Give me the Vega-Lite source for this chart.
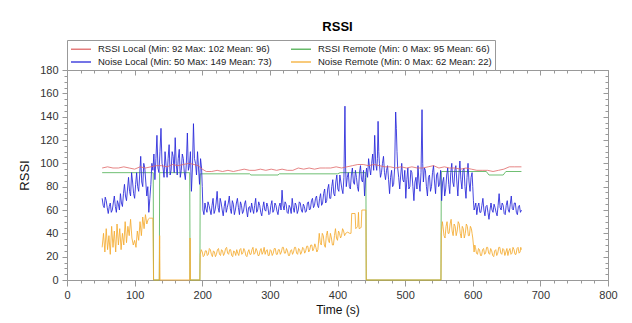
{
  "$schema": "https://vega.github.io/schema/vega-lite/v6.json",
  "width": 541,
  "height": 210,
  "autosize": {"type": "none"},
  "padding": {"left": 67, "top": 70, "right": 24, "bottom": 43},
  "background": "white",
  "title": {"text": "RSSI", "fontSize": 13, "fontWeight": "bold", "font": "Liberation Sans", "color": "#000", "anchor": "middle", "offset": 6},
  "datasets": {
    "rl": [{"t":52,"v":96},{"t":60,"v":97},{"t":68,"v":96},{"t":76,"v":96},{"t":84,"v":97},{"t":92,"v":96},{"t":100,"v":95},{"t":108,"v":97},{"t":116,"v":96},{"t":124,"v":97},{"t":132,"v":98},{"t":140,"v":98},{"t":148,"v":97},{"t":156,"v":99},{"t":164,"v":98},{"t":172,"v":99},{"t":180,"v":100},{"t":188,"v":99},{"t":194,"v":98},{"t":200,"v":95},{"t":206,"v":93},{"t":214,"v":93},{"t":222,"v":94},{"t":230,"v":93},{"t":238,"v":94},{"t":246,"v":93},{"t":254,"v":94},{"t":262,"v":95},{"t":270,"v":94},{"t":278,"v":94},{"t":286,"v":95},{"t":294,"v":94},{"t":302,"v":95},{"t":310,"v":94},{"t":318,"v":95},{"t":326,"v":94},{"t":334,"v":94},{"t":342,"v":96},{"t":350,"v":95},{"t":358,"v":96},{"t":366,"v":95},{"t":374,"v":96},{"t":382,"v":96},{"t":390,"v":96},{"t":398,"v":97},{"t":406,"v":96},{"t":414,"v":97},{"t":422,"v":98},{"t":430,"v":99},{"t":438,"v":99},{"t":446,"v":98},{"t":454,"v":99},{"t":462,"v":98},{"t":470,"v":97},{"t":478,"v":97},{"t":486,"v":96},{"t":494,"v":97},{"t":502,"v":96},{"t":510,"v":97},{"t":518,"v":96},{"t":526,"v":96},{"t":534,"v":97},{"t":542,"v":98},{"t":550,"v":96},{"t":558,"v":97},{"t":566,"v":96},{"t":574,"v":96},{"t":582,"v":95},{"t":590,"v":96},{"t":598,"v":95},{"t":606,"v":94},{"t":614,"v":94},{"t":622,"v":94},{"t":630,"v":93},{"t":638,"v":94},{"t":646,"v":95},{"t":654,"v":97},{"t":662,"v":97},{"t":672,"v":97}],
    "rr": [{"t":52,"v":92},{"t":127.5,"v":92},{"t":128,"v":0},{"t":136.5,"v":0},{"t":137,"v":92},{"t":181.5,"v":92},{"t":182,"v":0},{"t":196.5,"v":0},{"t":197,"v":91},{"t":270,"v":91},{"t":272,"v":90},{"t":312,"v":90},{"t":314,"v":91},{"t":400,"v":91},{"t":404,"v":92},{"t":442,"v":92},{"t":442.5,"v":0},{"t":553,"v":0},{"t":553.5,"v":93},{"t":620,"v":93},{"t":624,"v":90},{"t":645,"v":90},{"t":649,"v":93},{"t":672,"v":93}],
    "nl": [{"t":52,"v":70},{"t":53.5,"v":64},{"t":55,"v":62},{"t":56.5,"v":71},{"t":58,"v":68},{"t":59.5,"v":62},{"t":61,"v":57},{"t":62.5,"v":63},{"t":64,"v":66},{"t":65.5,"v":58},{"t":67,"v":60},{"t":68.5,"v":66},{"t":70,"v":72},{"t":71.5,"v":63},{"t":73,"v":58},{"t":74.5,"v":68},{"t":76,"v":65},{"t":77.5,"v":60},{"t":79,"v":74},{"t":80.5,"v":66},{"t":82,"v":63},{"t":83.5,"v":74},{"t":85,"v":82},{"t":86.5,"v":72},{"t":88,"v":68},{"t":89.5,"v":78},{"t":91,"v":88},{"t":92.5,"v":76},{"t":94,"v":72},{"t":95.5,"v":92},{"t":97,"v":84},{"t":98.5,"v":74},{"t":100,"v":70},{"t":101.5,"v":82},{"t":103,"v":92},{"t":104.5,"v":80},{"t":106,"v":76},{"t":107.5,"v":90},{"t":109,"v":106},{"t":110.5,"v":84},{"t":112,"v":80},{"t":113.5,"v":100},{"t":115,"v":96},{"t":116.5,"v":84},{"t":118,"v":72},{"t":119.5,"v":80},{"t":121,"v":58},{"t":122.5,"v":70},{"t":124,"v":82},{"t":125.5,"v":100},{"t":127,"v":94},{"t":128.5,"v":108},{"t":130,"v":86},{"t":131.5,"v":104},{"t":133,"v":124},{"t":134.5,"v":96},{"t":136,"v":92},{"t":137.5,"v":110},{"t":139,"v":130},{"t":140.5,"v":100},{"t":142,"v":96},{"t":143.5,"v":88},{"t":145,"v":110},{"t":146.5,"v":98},{"t":148,"v":88},{"t":149.5,"v":104},{"t":151,"v":116},{"t":152.5,"v":90},{"t":154,"v":94},{"t":155.5,"v":110},{"t":157,"v":106},{"t":158.5,"v":92},{"t":160,"v":122},{"t":161.5,"v":100},{"t":163,"v":90},{"t":164.5,"v":104},{"t":166,"v":112},{"t":167.5,"v":88},{"t":169,"v":94},{"t":170.5,"v":108},{"t":172,"v":104},{"t":173.5,"v":92},{"t":175,"v":86},{"t":176.5,"v":100},{"t":178,"v":126},{"t":179.5,"v":94},{"t":181,"v":98},{"t":182.5,"v":110},{"t":184,"v":76},{"t":185.5,"v":96},{"t":187,"v":134},{"t":188.5,"v":104},{"t":190,"v":100},{"t":191.5,"v":90},{"t":193,"v":110},{"t":194.5,"v":96},{"t":196,"v":82},{"t":197.5,"v":104},{"t":199,"v":96},{"t":200,"v":80},{"t":201,"v":60},{"t":202.5,"v":56},{"t":204,"v":66},{"t":205.5,"v":61},{"t":207,"v":58},{"t":208.5,"v":67},{"t":210,"v":64},{"t":211.5,"v":60},{"t":213,"v":56},{"t":214.5,"v":64},{"t":216,"v":70},{"t":217.5,"v":57},{"t":219,"v":60},{"t":220.5,"v":66},{"t":222,"v":76},{"t":223.5,"v":62},{"t":225,"v":58},{"t":226.5,"v":70},{"t":228,"v":66},{"t":229.5,"v":60},{"t":231,"v":55},{"t":232.5,"v":63},{"t":234,"v":68},{"t":235.5,"v":58},{"t":237,"v":62},{"t":238.5,"v":66},{"t":240,"v":72},{"t":241.5,"v":61},{"t":243,"v":57},{"t":244.5,"v":68},{"t":246,"v":65},{"t":247.5,"v":56},{"t":249,"v":60},{"t":250.5,"v":66},{"t":252,"v":70},{"t":253.5,"v":62},{"t":255,"v":56},{"t":256.5,"v":67},{"t":258,"v":64},{"t":259.5,"v":57},{"t":261,"v":59},{"t":262.5,"v":65},{"t":264,"v":68},{"t":265.5,"v":60},{"t":267,"v":54},{"t":268.5,"v":62},{"t":270,"v":63},{"t":271.5,"v":58},{"t":273,"v":66},{"t":274.5,"v":61},{"t":276,"v":57},{"t":277.5,"v":64},{"t":279,"v":70},{"t":280.5,"v":58},{"t":282,"v":60},{"t":283.5,"v":67},{"t":285,"v":64},{"t":286.5,"v":58},{"t":288,"v":55},{"t":289.5,"v":62},{"t":291,"v":67},{"t":292.5,"v":60},{"t":294,"v":59},{"t":295.5,"v":66},{"t":297,"v":63},{"t":298.5,"v":56},{"t":300,"v":57},{"t":301.5,"v":64},{"t":303,"v":68},{"t":304.5,"v":58},{"t":306,"v":60},{"t":307.5,"v":66},{"t":309,"v":64},{"t":310.5,"v":59},{"t":312,"v":56},{"t":313.5,"v":63},{"t":315,"v":66},{"t":316.5,"v":60},{"t":318,"v":77},{"t":319.5,"v":64},{"t":321,"v":60},{"t":322.5,"v":67},{"t":324,"v":65},{"t":325.5,"v":58},{"t":327,"v":57},{"t":328.5,"v":64},{"t":330,"v":62},{"t":331.5,"v":57},{"t":333,"v":70},{"t":334.5,"v":62},{"t":336,"v":58},{"t":337.5,"v":66},{"t":339,"v":64},{"t":340.5,"v":57},{"t":342,"v":60},{"t":343.5,"v":67},{"t":345,"v":66},{"t":346.5,"v":60},{"t":348,"v":58},{"t":349.5,"v":65},{"t":351,"v":63},{"t":352.5,"v":58},{"t":354,"v":59},{"t":355.5,"v":66},{"t":357,"v":67},{"t":358.5,"v":60},{"t":360,"v":61},{"t":361.5,"v":68},{"t":363,"v":70},{"t":364.5,"v":62},{"t":366,"v":64},{"t":367.5,"v":70},{"t":369,"v":72},{"t":370.5,"v":64},{"t":372,"v":62},{"t":373.5,"v":70},{"t":375,"v":74},{"t":376.5,"v":64},{"t":378,"v":66},{"t":379.5,"v":74},{"t":381,"v":78},{"t":382.5,"v":66},{"t":384,"v":68},{"t":385.5,"v":78},{"t":387,"v":82},{"t":388.5,"v":70},{"t":390,"v":70},{"t":391.5,"v":80},{"t":393,"v":86},{"t":394.5,"v":74},{"t":396,"v":72},{"t":397.5,"v":84},{"t":399,"v":90},{"t":400.5,"v":78},{"t":402,"v":76},{"t":403.5,"v":90},{"t":405,"v":84},{"t":406.5,"v":78},{"t":408,"v":74},{"t":409.5,"v":88},{"t":411,"v":149},{"t":412,"v":96},{"t":413,"v":80},{"t":414.5,"v":88},{"t":416,"v":92},{"t":417.5,"v":80},{"t":419,"v":78},{"t":420.5,"v":90},{"t":422,"v":96},{"t":423.5,"v":84},{"t":425,"v":82},{"t":426.5,"v":94},{"t":428,"v":88},{"t":429.5,"v":80},{"t":431,"v":76},{"t":432.5,"v":92},{"t":434,"v":98},{"t":435.5,"v":86},{"t":437,"v":84},{"t":438.5,"v":94},{"t":440,"v":72},{"t":441.5,"v":88},{"t":443,"v":96},{"t":444.5,"v":88},{"t":446,"v":104},{"t":447.5,"v":96},{"t":449,"v":90},{"t":450.5,"v":100},{"t":452,"v":108},{"t":453.5,"v":94},{"t":455,"v":124},{"t":456.5,"v":100},{"t":458,"v":94},{"t":459,"v":104},{"t":460,"v":136},{"t":461,"v":110},{"t":462,"v":100},{"t":463.5,"v":88},{"t":465,"v":92},{"t":466.5,"v":100},{"t":468,"v":106},{"t":469.5,"v":92},{"t":471,"v":86},{"t":472.5,"v":94},{"t":474,"v":98},{"t":475.5,"v":86},{"t":477,"v":74},{"t":478.5,"v":88},{"t":480,"v":94},{"t":481.5,"v":80},{"t":483,"v":82},{"t":484.5,"v":96},{"t":486,"v":144},{"t":487,"v":130},{"t":488,"v":110},{"t":489,"v":96},{"t":490.5,"v":88},{"t":492,"v":78},{"t":493.5,"v":90},{"t":495,"v":100},{"t":496.5,"v":86},{"t":498,"v":84},{"t":499.5,"v":94},{"t":501,"v":70},{"t":502.5,"v":86},{"t":504,"v":96},{"t":505.5,"v":78},{"t":507,"v":80},{"t":508.5,"v":94},{"t":510,"v":92},{"t":511.5,"v":80},{"t":513,"v":68},{"t":514.5,"v":84},{"t":516,"v":88},{"t":517.5,"v":78},{"t":519,"v":98},{"t":520.5,"v":84},{"t":522,"v":76},{"t":523.5,"v":92},{"t":525,"v":146},{"t":526,"v":100},{"t":527,"v":84},{"t":528.5,"v":96},{"t":530,"v":94},{"t":531.5,"v":80},{"t":533,"v":72},{"t":534.5,"v":88},{"t":536,"v":90},{"t":537.5,"v":76},{"t":539,"v":80},{"t":540.5,"v":92},{"t":542,"v":98},{"t":543.5,"v":84},{"t":545,"v":74},{"t":546.5,"v":90},{"t":548,"v":92},{"t":549.5,"v":80},{"t":551,"v":82},{"t":552.5,"v":94},{"t":554,"v":68},{"t":555.5,"v":84},{"t":557,"v":88},{"t":558.5,"v":72},{"t":560,"v":78},{"t":561.5,"v":90},{"t":563,"v":96},{"t":564.5,"v":82},{"t":566,"v":74},{"t":567.5,"v":92},{"t":569,"v":100},{"t":570.5,"v":84},{"t":572,"v":80},{"t":573.5,"v":94},{"t":575,"v":98},{"t":576.5,"v":84},{"t":578,"v":72},{"t":579.5,"v":90},{"t":581,"v":102},{"t":582.5,"v":86},{"t":584,"v":78},{"t":585.5,"v":94},{"t":587,"v":96},{"t":588.5,"v":80},{"t":590,"v":70},{"t":591.5,"v":88},{"t":593,"v":100},{"t":594.5,"v":84},{"t":596,"v":76},{"t":597.5,"v":88},{"t":599,"v":92},{"t":600,"v":80},{"t":601,"v":68},{"t":602,"v":60},{"t":603,"v":62},{"t":604.5,"v":66},{"t":606,"v":56},{"t":607.5,"v":63},{"t":609,"v":66},{"t":610.5,"v":58},{"t":612,"v":58},{"t":613.5,"v":64},{"t":615,"v":70},{"t":616.5,"v":60},{"t":618,"v":55},{"t":619.5,"v":63},{"t":621,"v":64},{"t":622.5,"v":58},{"t":624,"v":52},{"t":625.5,"v":60},{"t":627,"v":66},{"t":628.5,"v":60},{"t":630,"v":58},{"t":631.5,"v":65},{"t":633,"v":62},{"t":634.5,"v":58},{"t":636,"v":55},{"t":637.5,"v":64},{"t":639,"v":74},{"t":640.5,"v":62},{"t":642,"v":60},{"t":643.5,"v":66},{"t":645,"v":64},{"t":646.5,"v":57},{"t":648,"v":56},{"t":649.5,"v":64},{"t":651,"v":68},{"t":652.5,"v":60},{"t":654,"v":58},{"t":655.5,"v":65},{"t":657,"v":72},{"t":658.5,"v":61},{"t":660,"v":60},{"t":661.5,"v":66},{"t":663,"v":66},{"t":664.5,"v":58},{"t":666,"v":56},{"t":667.5,"v":63},{"t":669,"v":64},{"t":670.5,"v":58},{"t":672,"v":60}],
    "nr": [{"t":52,"v":28},{"t":54,"v":40},{"t":56,"v":24},{"t":58,"v":44},{"t":60,"v":26},{"t":62,"v":38},{"t":64,"v":22},{"t":66,"v":46},{"t":68,"v":28},{"t":70,"v":42},{"t":72,"v":24},{"t":74,"v":48},{"t":76,"v":30},{"t":78,"v":44},{"t":80,"v":26},{"t":82,"v":40},{"t":84,"v":30},{"t":86,"v":50},{"t":88,"v":32},{"t":90,"v":46},{"t":92,"v":38},{"t":94,"v":52},{"t":96,"v":36},{"t":98,"v":30},{"t":100,"v":34},{"t":102,"v":28},{"t":104,"v":42},{"t":106,"v":34},{"t":108,"v":50},{"t":110,"v":38},{"t":112,"v":54},{"t":114,"v":44},{"t":116,"v":56},{"t":118,"v":48},{"t":120,"v":52},{"t":122,"v":53},{"t":127,"v":53},{"t":128,"v":0},{"t":136.5,"v":0},{"t":137,"v":38},{"t":137.5,"v":0},{"t":181.5,"v":0},{"t":182,"v":36},{"t":182.5,"v":0},{"t":196.5,"v":0},{"t":197,"v":22},{"t":198.5,"v":26},{"t":200,"v":24},{"t":201.5,"v":20},{"t":203,"v":21},{"t":204.5,"v":25},{"t":206,"v":25},{"t":207.5,"v":21},{"t":209,"v":22},{"t":210.5,"v":27},{"t":212,"v":26},{"t":213.5,"v":22},{"t":215,"v":20},{"t":216.5,"v":25},{"t":218,"v":24},{"t":219.5,"v":20},{"t":221,"v":22},{"t":222.5,"v":26},{"t":224,"v":27},{"t":225.5,"v":22},{"t":227,"v":21},{"t":228.5,"v":26},{"t":230,"v":25},{"t":231.5,"v":21},{"t":233,"v":23},{"t":234.5,"v":27},{"t":236,"v":28},{"t":237.5,"v":23},{"t":239,"v":22},{"t":240.5,"v":26},{"t":242,"v":26},{"t":243.5,"v":21},{"t":245,"v":20},{"t":246.5,"v":25},{"t":248,"v":24},{"t":249.5,"v":21},{"t":251,"v":26},{"t":252.5,"v":23},{"t":254,"v":21},{"t":255.5,"v":26},{"t":257,"v":27},{"t":258.5,"v":22},{"t":260,"v":23},{"t":261.5,"v":27},{"t":263,"v":25},{"t":264.5,"v":21},{"t":266,"v":20},{"t":267.5,"v":24},{"t":269,"v":26},{"t":270.5,"v":22},{"t":272,"v":22},{"t":273.5,"v":26},{"t":275,"v":28},{"t":276.5,"v":22},{"t":278,"v":23},{"t":279.5,"v":27},{"t":281,"v":25},{"t":282.5,"v":21},{"t":284,"v":21},{"t":285.5,"v":25},{"t":287,"v":27},{"t":288.5,"v":22},{"t":290,"v":24},{"t":291.5,"v":28},{"t":293,"v":22},{"t":294.5,"v":25},{"t":296,"v":26},{"t":297.5,"v":21},{"t":299,"v":21},{"t":300.5,"v":26},{"t":302,"v":25},{"t":303.5,"v":21},{"t":305,"v":23},{"t":306.5,"v":27},{"t":308,"v":27},{"t":309.5,"v":22},{"t":311,"v":22},{"t":312.5,"v":26},{"t":314,"v":26},{"t":315.5,"v":22},{"t":317,"v":24},{"t":318.5,"v":28},{"t":320,"v":28},{"t":321.5,"v":23},{"t":323,"v":23},{"t":324.5,"v":27},{"t":326,"v":25},{"t":327.5,"v":21},{"t":329,"v":21},{"t":330.5,"v":25},{"t":332,"v":26},{"t":333.5,"v":22},{"t":335,"v":24},{"t":336.5,"v":28},{"t":338,"v":28},{"t":339.5,"v":23},{"t":341,"v":22},{"t":342.5,"v":27},{"t":344,"v":26},{"t":345.5,"v":22},{"t":347,"v":24},{"t":348.5,"v":28},{"t":350,"v":27},{"t":351.5,"v":23},{"t":353,"v":25},{"t":354.5,"v":29},{"t":356,"v":29},{"t":357.5,"v":24},{"t":359,"v":26},{"t":360.5,"v":30},{"t":362,"v":30},{"t":363.5,"v":25},{"t":365,"v":27},{"t":366.5,"v":31},{"t":368,"v":28},{"t":369.5,"v":24},{"t":371,"v":26},{"t":373,"v":40},{"t":374.5,"v":32},{"t":376,"v":30},{"t":377.5,"v":40},{"t":379,"v":38},{"t":380.5,"v":30},{"t":382,"v":28},{"t":383.5,"v":38},{"t":385,"v":42},{"t":386.5,"v":34},{"t":388,"v":32},{"t":389.5,"v":40},{"t":391,"v":36},{"t":392.5,"v":30},{"t":394,"v":30},{"t":395.5,"v":38},{"t":397,"v":44},{"t":398.5,"v":36},{"t":400,"v":34},{"t":401.5,"v":42},{"t":403,"v":40},{"t":404.5,"v":36},{"t":406,"v":38},{"t":407.5,"v":44},{"t":409,"v":42},{"t":410.5,"v":38},{"t":412,"v":40},{"t":415,"v":41},{"t":418,"v":40},{"t":420,"v":40},{"t":421,"v":57},{"t":426,"v":57},{"t":427,"v":44},{"t":430,"v":46},{"t":431,"v":58},{"t":432,"v":44},{"t":435,"v":45},{"t":436,"v":60},{"t":442,"v":60},{"t":442.5,"v":0},{"t":553,"v":0},{"t":553.5,"v":40},{"t":555,"v":50},{"t":556,"v":46},{"t":557.5,"v":38},{"t":559,"v":36},{"t":560.5,"v":46},{"t":562,"v":50},{"t":563.5,"v":40},{"t":565,"v":40},{"t":566.5,"v":48},{"t":568,"v":52},{"t":569.5,"v":42},{"t":571,"v":38},{"t":572.5,"v":48},{"t":574,"v":46},{"t":575.5,"v":38},{"t":577,"v":42},{"t":578.5,"v":50},{"t":580,"v":48},{"t":581.5,"v":40},{"t":583,"v":36},{"t":584.5,"v":46},{"t":586,"v":44},{"t":587.5,"v":36},{"t":589,"v":40},{"t":590.5,"v":48},{"t":592,"v":46},{"t":593.5,"v":38},{"t":595,"v":38},{"t":596.5,"v":46},{"t":598,"v":44},{"t":599,"v":40},{"t":600,"v":36},{"t":601,"v":30},{"t":602,"v":24},{"t":603,"v":30},{"t":604,"v":28},{"t":605.5,"v":23},{"t":607,"v":22},{"t":608.5,"v":27},{"t":610,"v":26},{"t":611.5,"v":21},{"t":613,"v":21},{"t":614.5,"v":26},{"t":616,"v":27},{"t":617.5,"v":22},{"t":619,"v":23},{"t":620.5,"v":28},{"t":622,"v":28},{"t":623.5,"v":23},{"t":625,"v":22},{"t":626.5,"v":27},{"t":628,"v":25},{"t":629.5,"v":21},{"t":631,"v":20},{"t":632.5,"v":25},{"t":634,"v":26},{"t":635.5,"v":21},{"t":637,"v":23},{"t":638.5,"v":28},{"t":640,"v":28},{"t":641.5,"v":23},{"t":643,"v":22},{"t":644.5,"v":27},{"t":646,"v":26},{"t":647.5,"v":21},{"t":649,"v":24},{"t":650.5,"v":27},{"t":652,"v":21},{"t":653.5,"v":25},{"t":655,"v":27},{"t":656.5,"v":22},{"t":658,"v":23},{"t":659.5,"v":28},{"t":661,"v":26},{"t":662.5,"v":22},{"t":664,"v":22},{"t":665.5,"v":27},{"t":667,"v":28},{"t":668.5,"v":23},{"t":670,"v":24},{"t":671,"v":28},{"t":672,"v":26}]
  },
  "layer": [
    {
      "data": {"name": "rr"},
      "mark": {"type": "line", "strokeWidth": 1, "opacity": 0.8},
      "encoding": {
        "x": {"field": "t", "type": "quantitative", "scale": {"domain": [0, 800], "nice": false},
          "axis": {"orient": "bottom", "values": [0,20,40,60,80,100,120,140,160,180,200,220,240,260,280,300,320,340,360,380,400,420,440,460,480,500,520,540,560,580,600,620,640,660,680,700,720,740,760,780,800],
            "labelExpr": "datum.value % 100 === 0 ? datum.label : ''",
            "tickSize": {"condition": {"test": "datum.value % 100 === 0", "value": 6}, "value": 3},
            "labelFlush": false, "labelOverlap": false, "labelPadding": 3, "title": "Time (s)", "titleFontSize": 12, "titlePadding": 4}},
        "y": {"field": "v", "type": "quantitative", "scale": {"domain": [0, 180], "nice": false},
          "axis": {"orient": "left", "values": [0,5,10,15,20,25,30,35,40,45,50,55,60,65,70,75,80,85,90,95,100,105,110,115,120,125,130,135,140,145,150,155,160,165,170,175,180],
            "labelExpr": "datum.value % 20 === 0 ? datum.label : ''",
            "tickSize": {"condition": {"test": "datum.value % 20 === 0", "value": 5}, "value": 3},
            "labelFlush": false, "labelOverlap": false, "labelPadding": 4, "title": "RSSI", "titleFontSize": 13, "titlePadding": 8}},
        "color": {"datum": "RSSI Remote (Min: 0 Max: 95 Mean: 66)", "type": "nominal",
          "scale": {"domain": ["RSSI Local (Min: 92 Max: 102 Mean: 96)", "RSSI Remote (Min: 0 Max: 95 Mean: 66)", "Noise Local (Min: 50 Max: 149 Mean: 73)", "Noise Remote (Min: 0 Max: 62 Mean: 22)"],
            "range": ["#e06666", "#4caf50", "#2626d9", "#f5ac30"]},
          "legend": {"orient": "none", "legendX": 0, "legendY": -30, "direction": "horizontal", "columns": 2, "columnPadding": 16, "rowPadding": 2, "padding": 3, "title": null,
            "symbolType": "M-1,0H3", "symbolSize": 100, "symbolStrokeWidth": 1.5, "symbolOpacity": 0.55, "symbolFillColor": "transparent", "labelFontSize": 9.5, "labelLimit": 400, "labelOffset": 16,
            "strokeColor": "#999", "fillColor": "white", "labelColor": "#222"}}
      }
    },
    {
      "data": {"name": "nl"},
      "mark": {"type": "line", "strokeWidth": 1, "opacity": 0.85},
      "encoding": {
        "x": {"field": "t", "type": "quantitative",
          "axis": {"orient": "top", "values": [0,20,40,60,80,100,120,140,160,180,200,220,240,260,280,300,320,340,360,380,400,420,440,460,480,500,520,540,560,580,600,620,640,660,680,700,720,740,760,780,800],
            "labels": false, "title": null, "tickSize": {"condition": {"test": "datum.value % 100 === 0", "value": -5}, "value": -3}}},
        "y": {"field": "v", "type": "quantitative",
          "axis": {"orient": "right", "values": [0,5,10,15,20,25,30,35,40,45,50,55,60,65,70,75,80,85,90,95,100,105,110,115,120,125,130,135,140,145,150,155,160,165,170,175,180],
            "labels": false, "title": null, "tickSize": {"condition": {"test": "datum.value % 20 === 0", "value": -5}, "value": -3}}},
        "color": {"datum": "Noise Local (Min: 50 Max: 149 Mean: 73)", "type": "nominal"}
      }
    },
    {
      "data": {"name": "rl"},
      "mark": {"type": "line", "strokeWidth": 1, "opacity": 0.8},
      "encoding": {
        "x": {"field": "t", "type": "quantitative", "axis": null},
        "y": {"field": "v", "type": "quantitative", "axis": null},
        "color": {"datum": "RSSI Local (Min: 92 Max: 102 Mean: 96)", "type": "nominal"}
      }
    },
    {
      "data": {"name": "nr"},
      "mark": {"type": "line", "strokeWidth": 1, "opacity": 0.85},
      "encoding": {
        "x": {"field": "t", "type": "quantitative", "axis": null},
        "y": {"field": "v", "type": "quantitative", "axis": null},
        "color": {"datum": "Noise Remote (Min: 0 Max: 62 Mean: 22)", "type": "nominal"}
      }
    }
  ],
  "resolve": {"axis": {"x": "independent", "y": "independent"}},
  "config": {
    "font": "Liberation Sans",
    "view": {"stroke": null},
    "axis": {"domainColor": "#999", "tickColor": "#999", "labelColor": "#333", "labelFontSize": 11, "titleFontWeight": "normal", "titleColor": "#111", "grid": false, "labelFont": "Liberation Sans", "titleFont": "Liberation Sans"},
    "legend": {"labelFont": "Liberation Sans"}
  }
}
